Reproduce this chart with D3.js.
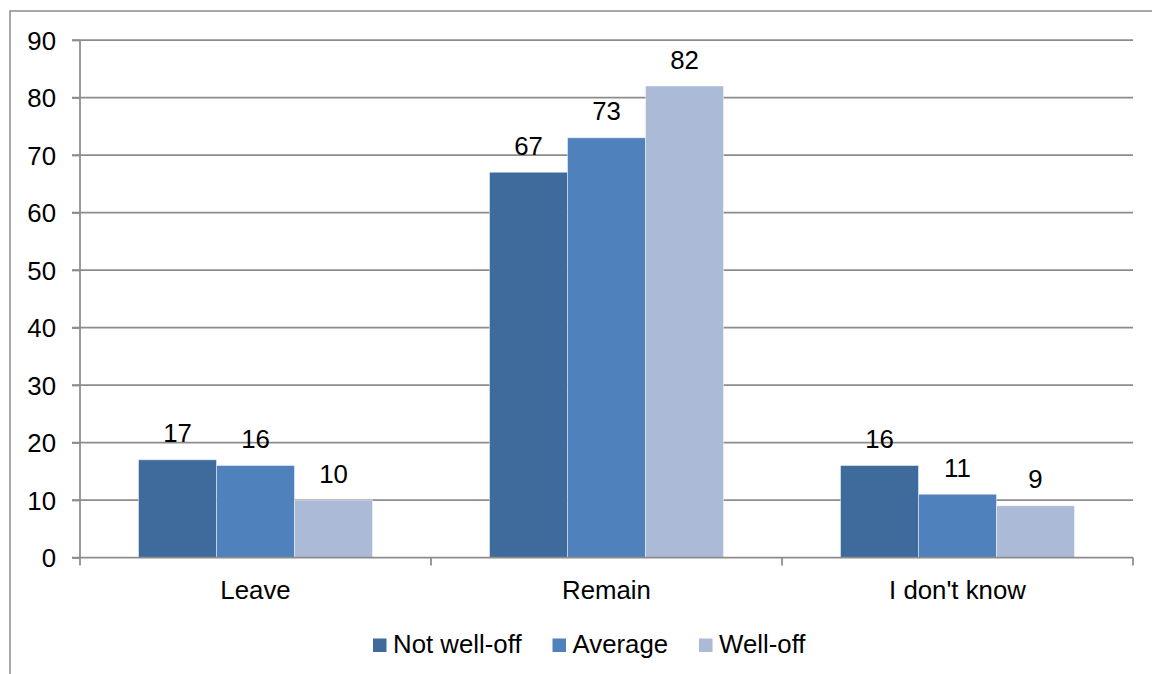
<!DOCTYPE html>
<html>
<head>
<meta charset="utf-8">
<script src="https://cdn.jsdelivr.net/npm/d3@7"></script>
<style>
  html, body { margin: 0; padding: 0; background: #fff; }
  svg { display: block; }
  text { font-family: "Liberation Sans", Arial, sans-serif; fill: #000; }
</style>
</head>
<body>
<svg id="chart" width="1152" height="674"></svg>
<script>
// Survey answers by income group
const categories = ["Leave", "Remain", "I don't know"];
const seriesNames = ["Not well-off", "Average", "Well-off"];
const notWellOff = [17, 67, 16];
const average = [16, 73, 11];
const wellOff = [10, 82, 9];
const yTicks = [0, 10, 20, 30, 40, 50, 60, 70, 80, 90];

const seriesValues = [notWellOff, average, wellOff];
const colors = ["#3f6a9c", "#4f81bd", "#aabad7"];

const svg = d3.select("#chart");
const W = 1152, H = 674;
const plot = { left: 80, right: 1133, top: 40, bottom: 557.5 };
const fontSize = 25.8;
const gridColor = "#8c8c8c";

// Outer chart frame (open on right and bottom, running past the page)
svg.append("rect")
  .attr("x", 10).attr("y", 11)
  .attr("width", W + 20).attr("height", H + 20)
  .attr("fill", "none")
  .attr("stroke", gridColor)
  .attr("stroke-width", 1.5);

const y = d3.scaleLinear().domain([0, 90]).range([plot.bottom, plot.top]);
const x0 = d3.scaleBand().domain(categories).range([plot.left, plot.right])
  .paddingInner(0).paddingOuter(0);
const x1 = d3.scaleBand().domain(seriesNames)
  .range([58.5, x0.bandwidth() - 58.5]).padding(0);

// Horizontal gridlines
svg.append("g")
  .selectAll("line")
  .data(yTicks.filter(d => d > 0))
  .join("line")
  .attr("x1", plot.left - 8).attr("x2", plot.right)
  .attr("y1", d => y(d)).attr("y2", d => y(d))
  .attr("stroke", gridColor)
  .attr("stroke-width", 1.75);

// Bars
const groups = svg.append("g")
  .selectAll("g")
  .data(categories)
  .join("g")
  .attr("transform", d => `translate(${x0(d)},0)`);

groups.selectAll("rect")
  .data((c, i) => seriesNames.map((s, k) => ({ s, k, v: seriesValues[k][i] })))
  .join("rect")
  .attr("x", d => x1(d.s))
  .attr("y", d => y(d.v))
  .attr("width", x1.bandwidth())
  .attr("height", d => y(0) - y(d.v))
  .attr("fill", d => colors[d.k])
  .attr("stroke", "rgba(255,255,255,0.45)")
  .attr("stroke-width", 1);

// Value labels above bars
groups.selectAll("text")
  .data((c, i) => seriesNames.map((s, k) => ({ s, k, v: seriesValues[k][i] })))
  .join("text")
  .attr("x", d => x1(d.s) + x1.bandwidth() / 2)
  .attr("y", d => y(d.v) - 17.5)
  .attr("text-anchor", "middle")
  .attr("font-size", fontSize)
  .text(d => d.v);

// Y axis
const yAxis = svg.append("g")
  .attr("transform", `translate(${plot.left},0)`)
  .call(d3.axisLeft(y).tickValues(yTicks).tickSize(8).tickPadding(16));
yAxis.select(".domain").attr("stroke", gridColor).attr("stroke-width", 1.75)
  .attr("d", `M0,${plot.top}V${plot.bottom + 0.5}`);
yAxis.selectAll(".tick line").attr("stroke", gridColor).attr("stroke-width", 1.75);
yAxis.selectAll(".tick text")
  .attr("font-size", fontSize)
  .attr("font-family", "Liberation Sans, Arial, sans-serif")
  .attr("fill", "#000")
  .attr("dy", "0.35em");

// X axis with ticks at group boundaries
const xAxisG = svg.append("g");
xAxisG.append("line")
  .attr("x1", plot.left - 8).attr("x2", plot.right)
  .attr("y1", plot.bottom).attr("y2", plot.bottom)
  .attr("stroke", gridColor).attr("stroke-width", 1.75);
const boundaries = categories.map(c => x0(c)).concat([x0(categories[categories.length - 1]) + x0.step()]);
xAxisG.selectAll("line.tick")
  .data(boundaries)
  .join("line")
  .attr("class", "tick")
  .attr("x1", d => d).attr("x2", d => d)
  .attr("y1", plot.bottom).attr("y2", plot.bottom + 8)
  .attr("stroke", gridColor).attr("stroke-width", 1.75);
xAxisG.selectAll("text")
  .data(categories)
  .join("text")
  .attr("x", d => x0(d) + x0.bandwidth() / 2)
  .attr("y", 599)
  .attr("text-anchor", "middle")
  .attr("font-size", fontSize)
  .text(d => d);

// Legend
const legendX = [373, 552.5, 699];
const legend = svg.append("g")
  .selectAll("g")
  .data(seriesNames)
  .join("g")
  .attr("transform", (d, i) => `translate(${legendX[i]},0)`);
legend.append("rect")
  .attr("x", 0).attr("y", 638.5)
  .attr("width", 13.5).attr("height", 13.5)
  .attr("fill", (d, i) => colors[i]);
legend.append("text")
  .attr("x", 20).attr("y", 653)
  .attr("font-size", fontSize)
  .text(d => d);
</script>
</body>
</html>
